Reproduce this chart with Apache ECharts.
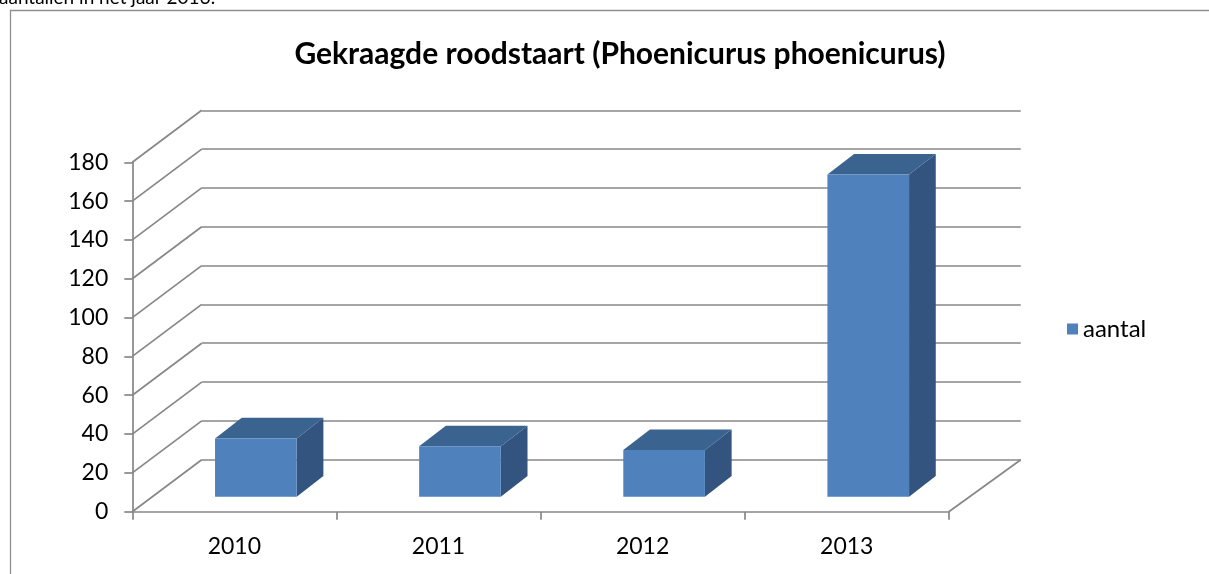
<!DOCTYPE html>
<html>
<head>
<meta charset="utf-8">
<script src="https://cdn.jsdelivr.net/npm/echarts@6/dist/echarts.min.js"></script>
<style>
html,body{margin:0;padding:0;background:#fff;}
#chart{width:1209px;height:574px;}
</style>
</head>
<body>
<div id="chart"></div>
<script>
// ---- data ----
const years = ['2010', '2011', '2012', '2013'];
const aantal = [30, 26, 24, 166];
const yTickValues = [0, 20, 40, 60, 80, 100, 120, 140, 160, 180];
const titleText = 'Gekraagde roodstaart (Phoenicurus phoenicurus)';
const seriesName = 'aantal';
const bodyText = 'aantallen in het jaar 2013.';

// ---- layout / style constants ----
const FONT = 'Lato, "Open Sans", sans-serif';
const GRID_COLOR = '#878787';
const FRONT = { left: 132.3, top: 162.3, width: 816.5, height: 349.4 };
const DEPTH_L = [69.4, -52];   // floor depth offset at left side (px)
const DEPTH_R = [72, -52];     // floor depth offset at right side (px)
const BAR_FRONT_SHIFT = [21.5, -15]; // front face of bars is set back into the floor
const BAR_DEPTH = [26.7, -20.6];
const BAR_WIDTH_RATIO = 0.4;
const COL_FRONT = '#4F81BD', COL_TOP = '#3B6390', COL_SIDE = '#32547E';

const chart = echarts.init(document.getElementById('chart'), null, { renderer: 'canvas' });

const backGrid = {
  left: FRONT.left + DEPTH_L[0],
  top: FRONT.top + DEPTH_L[1],
  width: FRONT.width + DEPTH_R[0] - DEPTH_L[0],
  height: FRONT.height
};

const option = {
  animation: false,
  backgroundColor: '#fff',
  title: {
    text: titleText,
    left: 615,
    textAlign: 'center',
    top: 34,
    textStyle: { fontFamily: FONT, fontWeight: 'bold', fontSize: 30, color: '#000' }
  },
  legend: {
    data: [seriesName],
    left: 1062,
    top: 312,
    icon: 'rect',
    itemWidth: 11,
    itemHeight: 11,
    textStyle: { fontFamily: FONT, fontSize: 24, color: '#000' },
    selectedMode: false
  },
  graphic: [
    {
      type: 'polyline',
      shape: { points: [[10.5, 574], [10.5, 10.5], [1209, 10.5]] },
      style: { stroke: '#8f8f8f', lineWidth: 1.3, fill: null },
      silent: true
    },
    {
      type: 'text',
      left: -1,
      top: -12,
      style: { text: bodyText, font: '19px ' + FONT, fill: '#000' },
      silent: true
    }
  ],
  grid: [
    Object.assign({ containLabel: false }, FRONT),
    Object.assign({ containLabel: false }, backGrid)
  ],
  xAxis: [
    {
      gridIndex: 0,
      type: 'category',
      data: years,
      boundaryGap: true,
      axisLine: { show: true, lineStyle: { color: GRID_COLOR, width: 1.7 } },
      axisTick: { show: true, length: 8, alignWithLabel: false, interval: 0, lineStyle: { color: GRID_COLOR, width: 1.7 } },
      axisLabel: { fontFamily: FONT, fontSize: 23, color: '#000', margin: 23 },
      splitLine: { show: false }
    },
    {
      gridIndex: 1,
      type: 'category',
      data: years,
      show: false
    }
  ],
  yAxis: [
    {
      gridIndex: 0,
      type: 'value',
      min: yTickValues[0],
      max: yTickValues[yTickValues.length - 1],
      interval: yTickValues[1] - yTickValues[0],
      axisLine: { show: true, lineStyle: { color: GRID_COLOR, width: 1.7 } },
      axisTick: { show: true, length: 8, lineStyle: { color: GRID_COLOR, width: 1.7 } },
      axisLabel: { fontFamily: FONT, fontSize: 23, color: '#000', margin: 24 },
      splitLine: { show: false }
    },
    {
      gridIndex: 1,
      type: 'value',
      min: yTickValues[0],
      max: yTickValues[yTickValues.length - 1],
      interval: yTickValues[1] - yTickValues[0],
      axisLine: { show: false },
      axisTick: { show: false },
      axisLabel: { show: false },
      splitLine: { show: true, showMinLine: true, showMaxLine: true, lineStyle: { color: GRID_COLOR, width: 1.7 } }
    }
  ],
  series: [
    {
      // side-wall diagonals from the front value axis to the back wall
      type: 'custom',
      name: 'diagonals',
      xAxisIndex: 0,
      yAxisIndex: 0,
      silent: true,
      data: yTickValues.map(v => [0, v]),
      renderItem: function (params, api) {
        const p = api.coord([api.value(0), api.value(1)]);
        const bw = api.size([1, 0])[0];
        const x = p[0] - bw / 2;
        return {
          type: 'line',
          shape: { x1: x, y1: p[1], x2: x + DEPTH_L[0], y2: p[1] + DEPTH_L[1] },
          style: { stroke: GRID_COLOR, lineWidth: 1.7 }
        };
      }
    },
    {
      // right edge of the floor
      type: 'custom',
      name: 'floorEdge',
      xAxisIndex: 0,
      yAxisIndex: 0,
      silent: true,
      data: [[years.length - 1, yTickValues[0]]],
      renderItem: function (params, api) {
        const p = api.coord([api.value(0), api.value(1)]);
        const bw = api.size([1, 0])[0];
        const x = p[0] + bw / 2;
        return {
          type: 'line',
          shape: { x1: x, y1: p[1], x2: x + DEPTH_R[0], y2: p[1] + DEPTH_R[1] },
          style: { stroke: GRID_COLOR, lineWidth: 1.7 }
        };
      }
    },
    {
      type: 'custom',
      name: seriesName,
      xAxisIndex: 0,
      yAxisIndex: 0,
      silent: true,
      itemStyle: { color: COL_FRONT },
      z: 5,
      data: aantal.map((v, i) => [i, v]),
      renderItem: function (params, api) {
        const base = api.coord([api.value(0), 0]);
        const top = api.coord([api.value(0), api.value(1)]);
        const bw = api.size([1, 0])[0];
        const w = bw * BAR_WIDTH_RATIO;
        const x0 = base[0] - w / 2 + BAR_FRONT_SHIFT[0];
        const x1 = x0 + w;
        const yb = base[1] + BAR_FRONT_SHIFT[1];
        const yt = top[1] + BAR_FRONT_SHIFT[1];
        const dx = BAR_DEPTH[0], dy = BAR_DEPTH[1];
        return {
          type: 'group',
          children: [
            {
              type: 'polygon',
              shape: { points: [[x1, yt], [x1, yb], [x1 + dx, yb + dy], [x1 + dx, yt + dy]] },
              style: { fill: COL_SIDE }
            },
            {
              type: 'polygon',
              shape: { points: [[x0, yt], [x1, yt], [x1 + dx, yt + dy], [x0 + dx, yt + dy]] },
              style: { fill: COL_TOP }
            },
            {
              type: 'rect',
              shape: { x: x0, y: yt, width: w, height: yb - yt },
              style: { fill: COL_FRONT }
            }
          ]
        };
      }
    }
  ]
};

chart.setOption(option);
</script>
</body>
</html>
